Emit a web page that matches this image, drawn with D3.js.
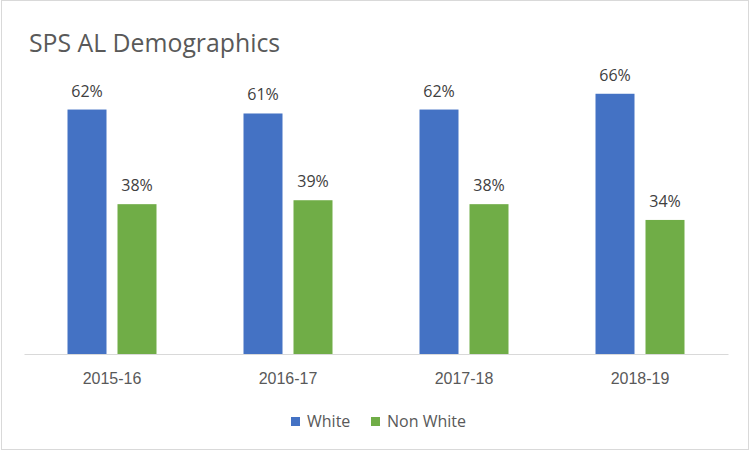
<!DOCTYPE html>
<html lang="en">
<head>
<meta charset="utf-8">
<title>SPS AL Demographics</title>
<style>
  html,body{margin:0;padding:0;background:#fff;}
  svg{display:block;font-family:"Open Sans","Noto Sans",sans-serif;}
  .lbl{fill:#404040;font-size:16px;}
  .tick text{fill:#595959;font-size:16px;}
</style>
<script src="https://cdn.jsdelivr.net/npm/d3@7"></script>
</head>
<body>
<div id="chart"></div>
<script>
const years = ["2015-16", "2016-17", "2017-18", "2018-19"];
const seriesNames = ["White", "Non White"];
const white = [0.62, 0.61, 0.62, 0.66];
const nonWhite = [0.38, 0.39, 0.38, 0.34];
const colors = ["#4472c4", "#70ad47"];

const width = 751, height = 452;
const margin = {top: 78, right: 23, bottom: 98, left: 24};

const svg = d3.select("#chart").append("svg")
    .attr("width", width)
    .attr("height", height);

// chart frame
svg.append("rect")
    .attr("x", 1.5).attr("y", 0.5)
    .attr("width", width - 4).attr("height", height - 3)
    .attr("fill", "#fff")
    .attr("stroke", "#d9d9d9");

svg.append("text")
    .attr("x", 29).attr("y", 52)
    .attr("fill", "#595959")
    .style("font-size", "24.8px")
    .text("SPS AL Demographics");

const x = d3.scaleBand()
    .domain(years)
    .range([margin.left, width - margin.right]);

const x1 = d3.scaleBand()
    .domain(seriesNames)
    .range([0, x.bandwidth()])
    .paddingInner(0.22)
    .paddingOuter(0.87);

const y = d3.scaleLinear()
    .domain([0, 0.7])
    .range([height - margin.bottom, margin.top]);

const rows = years.map((yr, i) => ({
    year: yr,
    vals: [{k: "White", v: white[i]}, {k: "Non White", v: nonWhite[i]}]
}));

const groups = svg.append("g").selectAll("g")
    .data(rows)
    .join("g")
    .attr("transform", d => `translate(${x(d.year)},0)`);

groups.selectAll("rect")
    .data(d => d.vals)
    .join("rect")
    .attr("x", d => x1(d.k))
    .attr("y", d => y(d.v))
    .attr("width", x1.bandwidth())
    .attr("height", d => y(0) - y(d.v))
    .attr("fill", (d, i) => colors[i]);

groups.selectAll("text")
    .data(d => d.vals)
    .join("text")
    .attr("class", "lbl")
    .attr("x", d => x1(d.k) + x1.bandwidth() / 2)
    .attr("y", d => y(d.v) - 13)
    .attr("text-anchor", "middle")
    .text(d => d3.format(".0%")(d.v));

// x axis
const xAxis = svg.append("g")
    .attr("transform", `translate(0,${y(0)})`)
    .call(d3.axisBottom(x).tickSize(0).tickPadding(19));
xAxis.select(".domain").attr("stroke", "#d9d9d9");
xAxis.selectAll(".tick text").style("font-family", "inherit");

// legend
const legend = svg.append("g").attr("transform", "translate(291,417)");
const items = legend.selectAll("g")
    .data(seriesNames)
    .join("g")
    .attr("transform", (d, i) => `translate(${i * 80},0)`);
items.append("rect")
    .attr("width", 9).attr("height", 9)
    .attr("fill", (d, i) => colors[i]);
items.append("text")
    .attr("x", 16).attr("y", 9.5)
    .attr("fill", "#595959")
    .style("font-size", "16px")
    .text(d => d);
</script>
</body>
</html>
